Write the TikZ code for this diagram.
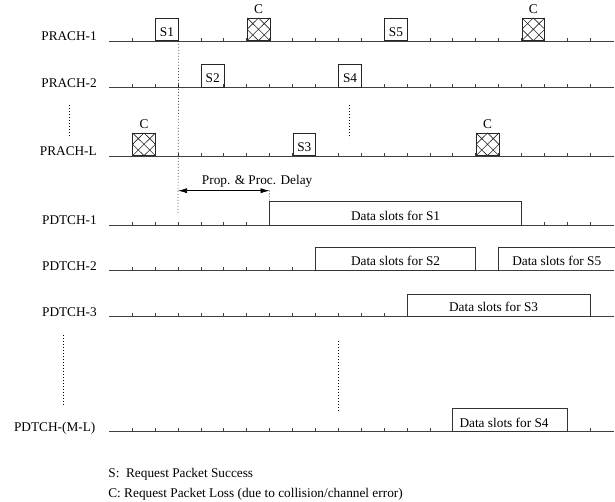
\documentclass[tikz,border=0pt]{standalone}
\usepackage{fontspec}
\setmainfont{Liberation Serif}
\usetikzlibrary{arrows.meta,fit}
\begin{document}
\begin{tikzpicture}[x=22.9pt,y=-1pt,
  every node/.style={font=\fontsize{13.3pt}{16pt}\selectfont, inner sep=0pt},
  chline/.style={line width=0.8pt,draw=black!75},
  tickmark/.style={line width=0.7pt,draw=black!75},
  slotbox/.style={draw=black!85,line width=0.7pt,minimum width=22.9pt,minimum height=22.7pt,anchor=south west},
  lostbox/.style={slotbox,path picture={
     \draw[line width=0.6pt]
       (path picture bounding box.north west) -- (path picture bounding box.south east)
       (path picture bounding box.north east) -- (path picture bounding box.south west)
       (path picture bounding box.north) -- (path picture bounding box.east)
       -- (path picture bounding box.south) -- (path picture bounding box.west) -- cycle;}},
  databox/.style={draw=black!80,line width=0.7pt},
  dotline/.style={line width=0.7pt,dash pattern=on 0.7pt off 2.3pt},
  chlabel/.style={anchor=base east},
  intext/.style={anchor=base},
  ]
\useasboundingbox (-4.773,0) rectangle (22.083,502);

% channel lines and labels
\foreach \n/\y/\t in {p1/41/PRACH-1, p2/87.3/PRACH-2, pl/156/PRACH-L,
                      d1/225/PDTCH-1, d2/270.7/PDTCH-2, d3/316.7/PDTCH-3} {
  \coordinate (\n-s) at (0,\y);
  \coordinate (\n-e) at (22.05,\y);
  \node[chlabel] (lab-\n) at (-0.537,\y) {\t};
  \draw[chline] (\n-s) -- (\n-e);
}
\coordinate (dm-s) at (0,431.7);
\coordinate (dm-e) at (22.05,431.7);
\node[chlabel] (lab-dm) at (-0.6,431.7) {PDTCH-(M-L)};
\draw[chline] (dm-s) -- (dm-e);

% ticks
\foreach \k in {1,...,21} {
  \draw[tickmark] (\k,41) -- ++(0,-3.3);
  \draw[tickmark] (\k,87.3) -- ++(0,-3.3);
  \draw[tickmark] (\k,156) -- ++(0,-3.3);
}
\foreach \k in {1,...,6,19,20,21} \draw[tickmark] (\k,225) -- ++(0,-3.3);
\foreach \k in {1,...,8} \draw[tickmark] (\k,270.7) -- ++(0,-3.3);
\foreach \k in {1,...,12} \draw[tickmark] (\k,316.7) -- ++(0,-3.3);
\foreach \k in {1,...,14,21} \draw[tickmark] (\k,431.7) -- ++(0,-3.3);

% request slots
\node[slotbox] (s1) at (2,41) {};
\node[intext] (s1t) at ([yshift=4.3pt]s1.south) {S1};
\node[lostbox] (c1) at (6,41) {};
\node[intext] (c1t) at ([yshift=4pt]c1.north) {C};
\node[slotbox] (s5) at (12,41) {};
\node[intext] (s5t) at ([yshift=4.3pt]s5.south) {S5};
\node[lostbox] (c2) at (18,41) {};
\node[intext] (c2t) at ([yshift=4pt]c2.north) {C};

\node[slotbox] (s2) at (4,87.3) {};
\node[intext] (s2t) at ([yshift=4.3pt]s2.south) {S2};
\node[slotbox] (s4) at (10,87.3) {};
\node[intext] (s4t) at ([yshift=4.3pt]s4.south) {S4};

\node[lostbox] (c3) at (1,156) {};
\node[intext] (c3t) at ([yshift=4pt]c3.north) {C};
\node[slotbox] (s3) at (8,156) {};
\node[intext] (s3t) at ([yshift=4.3pt]s3.south) {S3};
\node[lostbox] (c4) at (16,156) {};
\node[intext] (c4t) at ([yshift=4pt]c4.north) {C};

% data slots
\node[databox, fit={(7,225) (18,201.7)}] (b1) {};
\node[intext] (b1t) at ([yshift=5.2pt]b1.south) {Data slots for S1};
\node[databox, fit={(9,270.7) (16,247.3)}] (b2) {};
\node[intext] (b2t) at ([yshift=5.4pt]b2.south) {Data slots for S2};
\coordinate (b5a) at (17,270.7);
\coordinate (b5b) at (22.1,247.3);
\draw[databox] (b5a) |- (b5b);
\node[intext] (b5t) at (19.54,265.3) {Data slots for S5};
\node[databox, fit={(13,316.7) (21,294)}] (b3) {};
\node[intext] (b3t) at ([xshift=-5pt,yshift=5.6pt]b3.south) {Data slots for S3};
\node[databox, fit={(15,431.7) (20,408.3)}] (b4) {};
\node[intext] (b4t) at ([xshift=-6pt,yshift=5pt]b4.south) {Data slots for S4};

% delay marker
\coordinate (v1b) at (3,213);
\draw[dotline] (s1.south east) -- (v1b);
\coordinate (a1) at (3,190.7);
\coordinate (a2) at (7,190.7);
\draw[line width=0.7pt,{Latex[length=9pt,width=5pt]}-{Latex[length=9pt,width=5pt]}] (a1) -- (a2);
\draw[dotline] (a2) -- (b1.north west);
\node[intext] (dl) at (6.457,185) {Prop. \& Proc. Delay};

% ellipsis dots
\coordinate (e1a) at (-1.76,105); \coordinate (e1b) at (-1.76,138);
\draw[dotline] (e1a) -- (e1b);
\coordinate (e2a) at (10.5,105); \coordinate (e2b) at (10.5,138);
\draw[dotline] (e2a) -- (e2b);
\coordinate (e3a) at (-2.0,335); \coordinate (e3b) at (-2.0,406);
\draw[dotline] (e3a) -- (e3b);
\coordinate (e4a) at (10,341); \coordinate (e4b) at (10,412);
\draw[dotline] (e4a) -- (e4b);

% legend
\node[anchor=base west] (legS) at (-0.05,477) {S:\ \ Request Packet Success};
\node[anchor=base west] (legC) at (-0.05,497) {C: Request Packet Loss (due to collision/channel error)};
\end{tikzpicture}
\end{document}
